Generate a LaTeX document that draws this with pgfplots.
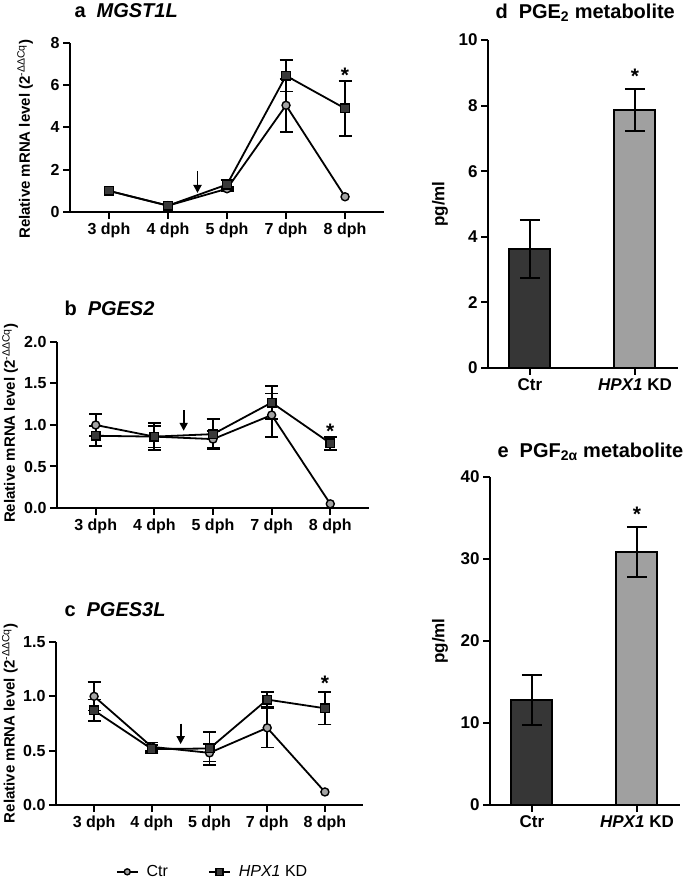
\documentclass[border=0pt]{standalone}
\usepackage{pgfplots}
\pgfplotsset{compat=1.18}
\usepackage{fontspec}
\setmainfont{Liberation Sans}
\usetikzlibrary{arrows.meta}

\definecolor{ctrgray}{HTML}{A4A4A4}
\definecolor{kddark}{HTML}{3A3A3A}
\definecolor{bardark}{HTML}{363636}
\definecolor{barlight}{HTML}{A0A0A0}

\newcommand{\tfont}{\fontsize{20}{20}\selectfont\bfseries}
\newcommand{\lfont}{\fontsize{16}{16}\selectfont\bfseries}
\newcommand{\afont}{\fontsize{21}{21}\selectfont\bfseries}

\tikzset{arr/.style={line width=1.9pt, -{Triangle[length=8pt,width=8pt]}}}

\pgfplotsset{
  panel/.style={
    scale only axis,
    axis x line*=bottom, axis y line*=left,
    axis line style={line width=2pt,-},
    tick style={line width=2pt, black},
    tick align=outside,
    major tick length=7pt,
    tick label style={font=\lfont},
    /pgf/number format/assume math mode=true,
    label style={font=\fontsize{15}{15}\selectfont\bfseries},
    clip=false,
  },
  lineplot/.style={
    panel,
    xmin=-0.66, xmax=4.66,
    xtick={0,...,4},
    xticklabels={3 dph,4 dph,5 dph,7 dph,8 dph},
    ymin=0,
    ylabel={Relative mRNA level (2\textsuperscript{\mdseries -ΔΔCq})},
  },
  % error bars only, drawn under the lines and markers
  errs/.style={forget plot, only marks, mark=none,
    error bars/y dir=both, error bars/y explicit,
    error bars/error bar style={draw=black, line width=1.8pt},
    error bars/error mark options={draw=black, rotate=90, mark size=6.5pt, line width=1.8pt}},
  ctr/.style={black, line width=1.8pt, mark=*, mark size=4pt,
    mark options={fill=ctrgray, draw=black, line width=1.4pt}},
  kd/.style={black, line width=1.8pt, mark=square*, mark size=4.3pt,
    mark options={fill=kddark, draw=black, line width=1.4pt}},
  barpanel/.style={
    panel,
    xmin=-0.4, xmax=1.41,
    xtick={0,1},
    xticklabels={Ctr,\textit{HPX1} KD},
    tick label style={font=\fontsize{17}{17}\selectfont\bfseries},
    ymin=0,
    ylabel={pg/ml},
    label style={font=\fontsize{17}{17}\selectfont\bfseries},
  },
  bar/.style={ybar, bar width=41pt, bar shift=0pt, draw=black, line width=2pt,
    error bars/y dir=both, error bars/y explicit,
    error bars/error bar style={line width=2pt},
    error bars/error mark options={rotate=90, mark size=10pt, line width=2pt}},
}

\begin{document}
\begin{tikzpicture}
\useasboundingbox (0,0) rectangle (685pt,880pt);

% a MGST1L
\node[anchor=west, font=\tfont] at (71pt,869pt) {a\hspace{11pt}\textit{MGST1L}};
\begin{axis}[lineplot, at={(70pt,668pt)}, anchor=south west,
  width=314pt, height=169pt, ymax=8, ytick={0,2,...,8},
  ylabel style={at={(axis description cs:-0.143,0.43)}, anchor=center}]
\addplot[errs] coordinates {(2,1.1) +- (0,0.1) (3,5.05) +- (0,1.25)};
\addplot[errs] coordinates {(2,1.3) +- (0,0.2) (3,6.45) +- (0,0.75) (4,4.9) +- (0,1.3)};
\addplot[ctr] coordinates {(0,1.0) (1,0.3) (2,1.1) (3,5.05) (4,0.72)};
\addplot[kd] coordinates {(0,1.0) (1,0.3) (2,1.3) (3,6.45) (4,4.9)};
\draw[arr] (axis cs:1.5,1.95) -- (axis cs:1.5,0.9);
\node[font=\afont] at (axis cs:4,6.45) {*};
\end{axis}

% b PGES2
\node[anchor=west, font=\tfont] at (61pt,572pt) {b\hspace{11pt}\textit{PGES2}};
\begin{axis}[lineplot, at={(57pt,372pt)}, anchor=south west,
  width=312pt, height=166pt, ymax=2, ytick={0,0.5,...,2},
  yticklabel style={/pgf/number format/.cd, fixed, fixed zerofill, precision=1},
  ylabel style={at={(axis description cs:-0.15,0.51)}, anchor=center}]
\addplot[errs] coordinates {(0,1.00) +- (0,0.13) (1,0.86) +- (0,0.16) (2,0.83) +- (0,0.10) (3,1.12) +- (0,0.26)};
\addplot[errs] coordinates {(0,0.87) +- (0,0.12) (1,0.86) +- (0,0.13) (2,0.89) +- (0,0.18) (3,1.27) +- (0,0.20) (4,0.78) +- (0,0.08)};
\addplot[ctr] coordinates {(0,1.00) (1,0.86) (2,0.83) (3,1.12) (4,0.05)};
\addplot[kd] coordinates {(0,0.87) (1,0.86) (2,0.89) (3,1.27) (4,0.78)};
\draw[arr] (axis cs:1.5,1.18) -- (axis cs:1.5,0.93);
\node[font=\afont] at (axis cs:4,0.92) {*};
\end{axis}

% c PGES3L
\node[anchor=west, font=\tfont] at (61pt,270pt) {c\hspace{11pt}\textit{PGES3L}};
\begin{axis}[lineplot, at={(56pt,75pt)}, anchor=south west,
  width=307pt, height=163pt, ymax=1.5, ytick={0,0.5,...,1.5},
  yticklabel style={/pgf/number format/.cd, fixed, fixed zerofill, precision=1},
  ylabel style={at={(axis description cs:-0.15,0.50)}, anchor=center},
  legend columns=2,
  legend style={draw=none, at={(0.51,-0.41)}, anchor=center, font=\fontsize{16}{16}\selectfont,
    /tikz/every odd column/.append style={column sep=6pt},
    /tikz/every even column/.append style={column sep=38pt}},
  legend image code/.code={\draw[mark repeat=2, mark phase=2, #1] plot coordinates {(0pt,0pt) (10.5pt,0pt) (21pt,0pt)};}]
\addplot[errs] coordinates {(0,1.00) +- (0,0.13) (1,0.535) +- (0,0.04) (2,0.48) +- (0,0.08) (3,0.71) +- (0,0.18)};
\addplot[errs] coordinates {(0,0.87) +- (0,0.10) (1,0.515) +- (0,0.04) (2,0.52) +- (0,0.15) (3,0.97) +- (0,0.07) (4,0.89) +- (0,0.15)};
\addplot[ctr, legend image post style={mark size=3pt}] coordinates {(0,1.00) (1,0.535) (2,0.48) (3,0.71) (4,0.12)};
\addlegendentry{Ctr}
\addplot[kd, legend image post style={mark size=3.5pt}] coordinates {(0,0.87) (1,0.515) (2,0.52) (3,0.97) (4,0.89)};
\addlegendentry{\textit{HPX1} KD}
\draw[arr] (axis cs:1.5,0.75) -- (axis cs:1.5,0.56);
\node[font=\afont] at (axis cs:4,1.12) {*};
\end{axis}

% d PGE2 metabolite
\node[anchor=west, font=\tfont] at (492pt,867pt) {d\hspace{11pt}PGE\textsubscript{2} metabolite};
\begin{axis}[barpanel, at={(488pt,512pt)}, anchor=south west,
  width=190pt, height=328pt, ymax=10, ytick={0,2,...,10},
  ylabel style={at={(axis description cs:-0.253,0.5)}, anchor=center}]
\addplot[bar, fill=bardark] coordinates {(0,3.63) +- (0,0.89)};
\addplot[bar, fill=barlight] coordinates {(1,7.86) +- (0,0.64)};
\node[font=\afont] at (axis cs:1,8.9) {*};
\end{axis}

% e PGF2alpha metabolite
\node[anchor=west, font=\tfont] at (494pt,428pt) {e\hspace{11pt}PGF\textsubscript{2α} metabolite};
\begin{axis}[barpanel, at={(490pt,75pt)}, anchor=south west,
  width=190pt, height=328pt, ymax=40, ytick={0,10,...,40},
  ylabel style={at={(axis description cs:-0.263,0.5)}, anchor=center}]
\addplot[bar, fill=bardark] coordinates {(0,12.8) +- (0,3.05)};
\addplot[bar, fill=barlight] coordinates {(1,30.8) +- (0,3.05)};
\node[font=\afont] at (axis cs:1,35.5) {*};
\end{axis}
\end{tikzpicture}
\end{document}
